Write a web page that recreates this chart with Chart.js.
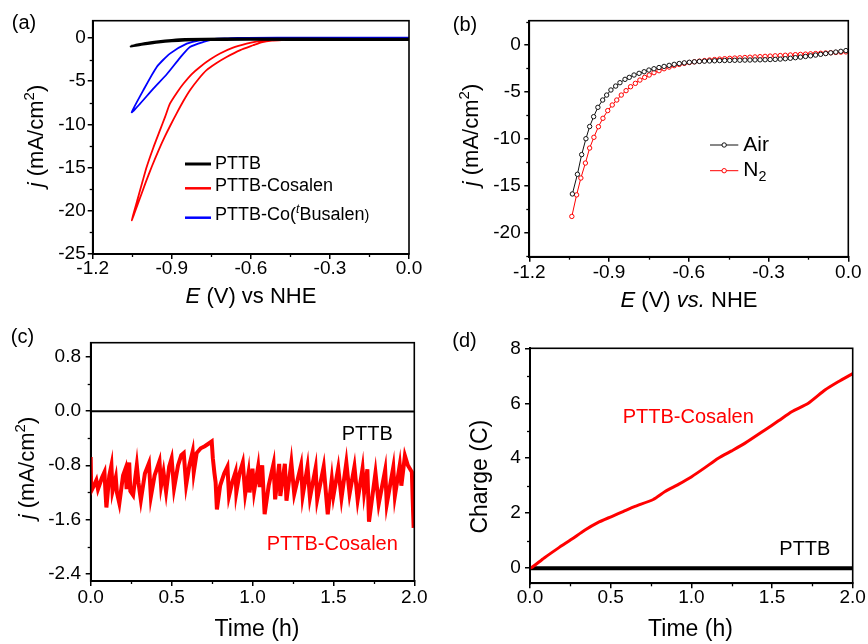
<!DOCTYPE html>
<html><head><meta charset="utf-8">
<script src="https://cdn.jsdelivr.net/npm/chart.js@4.4.0/dist/chart.umd.min.js"></script>
<style>
html,body{margin:0;padding:0;background:#fff;}
#wrap{position:relative;width:868px;height:644px;overflow:hidden;background:#fff;}
canvas{position:absolute;}
</style></head><body>
<div id="wrap">
<canvas id="ca" width="430" height="318" style="left:0;top:0"></canvas>
<canvas id="cb" width="438" height="318" style="left:430px;top:0"></canvas>
<canvas id="cc" width="430" height="324" style="left:0;top:320px"></canvas>
<canvas id="cd" width="438" height="324" style="left:430px;top:320px"></canvas>
</div>
<script>
// ---------------- DATA ----------------
// (a) CV curves, E (V vs NHE) and j (mA/cm2)
const aPTTB_E = [0.0,-0.3,-0.6,-0.8,-0.85,-0.9,-0.95,-1.0,-1.055,-1.0,-0.95,-0.9,-0.85,-0.7,-0.4,0.0];
const aPTTB_j = [-0.2,-0.2,-0.19,-0.2,-0.25,-0.35,-0.5,-0.7,-0.95,-0.6,-0.4,-0.25,-0.15,-0.1,-0.1,-0.12];
const aCosalen_E = [-0.47,-0.52,-0.56,-0.591,-0.64,-0.692,-0.73,-0.767,-0.80,-0.831,-0.856,-0.881,-0.905,-0.926,-0.95,-0.976,-1.0,-1.025,-1.052,-1.03,-1.01,-0.995,-0.97,-0.945,-0.925,-0.907,-0.88,-0.856,-0.825,-0.793,-0.755,-0.717,-0.67,-0.616,-0.58,-0.54,-0.50,-0.47];
const aCosalen_j = [-0.22,-0.3,-0.5,-0.84,-1.4,-2.2,-2.9,-3.7,-4.8,-6.05,-7.3,-8.7,-10.1,-11.4,-13.0,-14.9,-16.8,-18.9,-21.1,-18.7,-16.5,-14.9,-12.7,-10.7,-9.1,-7.6,-6.3,-5.3,-4.2,-3.35,-2.5,-1.8,-1.15,-0.65,-0.42,-0.27,-0.2,-0.18];
const aBu_E = [0.0,-0.3,-0.5,-0.65,-0.742,-0.78,-0.831,-0.869,-0.919,-0.970,-1.020,-1.052,-1.008,-0.957,-0.907,-0.843,-0.793,-0.7,-0.5,-0.2,0.0];
const aBu_j = [0.03,0.02,0.04,0.0,-0.19,-0.46,-1.04,-2.3,-4.2,-5.86,-7.6,-8.6,-6.05,-3.35,-1.81,-0.66,-0.27,-0.05,0.05,0.03,0.04];
// (b) LSV in air and N2
const bAir_E = [-1.038,-1.019,-1.003,-0.987,-0.973,-0.958,-0.942,-0.924,-0.909,-0.893,-0.875,-0.859,-0.840,-0.824,-0.806,-0.787,-0.768,-0.750,-0.731,-0.712,-0.693,-0.674,-0.655,-0.636,-0.617,-0.598,-0.579,-0.560,-0.541,-0.522,-0.503,-0.484,-0.465,-0.446,-0.427,-0.408,-0.389,-0.370,-0.351,-0.332,-0.313,-0.294,-0.275,-0.256,-0.237,-0.218,-0.199,-0.180,-0.161,-0.142,-0.123,-0.104,-0.085,-0.066,-0.047,-0.028,-0.009];
const bAir_j = [-15.9,-13.8,-11.7,-10.0,-8.7,-7.65,-6.65,-5.87,-5.34,-4.8,-4.38,-4.02,-3.66,-3.45,-3.2,-3.02,-2.85,-2.67,-2.53,-2.4,-2.28,-2.17,-2.06,-1.97,-1.9,-1.84,-1.79,-1.75,-1.72,-1.7,-1.68,-1.66,-1.65,-1.64,-1.63,-1.62,-1.61,-1.6,-1.59,-1.58,-1.57,-1.55,-1.53,-1.5,-1.46,-1.41,-1.35,-1.29,-1.22,-1.15,-1.07,-0.99,-0.91,-0.83,-0.75,-0.67,-0.59];
const bN2_E = [-1.040,-1.022,-1.006,-0.989,-0.973,-0.957,-0.940,-0.923,-0.905,-0.888,-0.871,-0.854,-0.836,-0.819,-0.801,-0.784,-0.766,-0.749,-0.731,-0.712,-0.693,-0.674,-0.655,-0.636,-0.617,-0.598,-0.579,-0.560,-0.541,-0.522,-0.503,-0.484,-0.465,-0.446,-0.427,-0.408,-0.389,-0.370,-0.351,-0.332,-0.313,-0.294,-0.275,-0.256,-0.237,-0.218,-0.199,-0.180,-0.161,-0.142,-0.123,-0.104,-0.085,-0.066,-0.047,-0.028,-0.009];
const bN2_j = [-18.3,-16.0,-14.2,-12.6,-11.0,-9.85,-8.72,-7.82,-7.0,-6.4,-5.87,-5.34,-4.87,-4.45,-4.09,-3.74,-3.45,-3.2,-2.95,-2.74,-2.53,-2.35,-2.2,-2.07,-1.96,-1.87,-1.79,-1.72,-1.66,-1.6,-1.55,-1.5,-1.46,-1.42,-1.39,-1.36,-1.33,-1.3,-1.27,-1.24,-1.21,-1.18,-1.15,-1.12,-1.09,-1.06,-1.03,-1.0,-0.97,-0.94,-0.91,-0.88,-0.85,-0.82,-0.79,-0.76,-0.73];
// (c) current vs time
const cCosalen_t = [0.000,0.003,0.020,0.035,0.045,0.070,0.085,0.092,0.097,0.115,0.128,0.135,0.155,0.162,0.177,0.200,0.215,0.222,0.238,0.245,0.262,0.285,0.295,0.310,0.335,0.360,0.372,0.395,0.425,0.435,0.450,0.466,0.485,0.500,0.515,0.540,0.560,0.575,0.590,0.610,0.630,0.637,0.655,0.680,0.705,0.730,0.748,0.755,0.765,0.772,0.780,0.800,0.825,0.845,0.855,0.875,0.895,0.900,0.920,0.940,0.955,0.975,0.982,1.000,1.010,1.035,1.045,1.060,1.075,1.100,1.130,1.140,1.165,1.172,1.200,1.210,1.240,1.258,1.300,1.310,1.340,1.355,1.390,1.400,1.440,1.465,1.490,1.500,1.530,1.550,1.580,1.600,1.630,1.650,1.680,1.690,1.710,1.720,1.760,1.780,1.820,1.830,1.870,1.880,1.910,1.920,1.942,1.960,1.985,1.990,1.996];
const cCosalen_j = [-0.68,-1.18,-1.10,-1.02,-1.15,-0.98,-0.90,-1.22,-1.42,-0.95,-0.80,-1.18,-0.98,-1.20,-1.36,-0.95,-0.85,-1.15,-0.76,-1.18,-1.24,-0.80,-1.05,-1.31,-0.92,-0.77,-1.26,-0.95,-0.74,-1.10,-0.90,-1.19,-0.82,-0.70,-1.14,-0.80,-0.65,-0.62,-1.09,-0.80,-0.60,-0.90,-0.62,-0.55,-0.52,-0.48,-0.45,-0.70,-0.92,-1.05,-1.45,-1.10,-0.92,-0.82,-1.25,-1.05,-0.90,-1.20,-0.92,-0.76,-1.22,-0.92,-1.20,-0.85,-1.18,-0.82,-1.12,-0.80,-1.52,-1.10,-0.78,-1.30,-0.78,-1.25,-0.78,-1.32,-0.76,-1.22,-0.80,-1.25,-0.82,-1.28,-0.84,-1.30,-0.82,-1.52,-1.00,-1.25,-0.84,-1.28,-0.76,-1.22,-0.82,-1.31,-0.85,-1.20,-0.86,-1.63,-0.91,-1.37,-0.87,-1.37,-0.83,-1.25,-0.80,-1.10,-0.66,-0.80,-0.90,-1.30,-1.72];
const cPTTB_t = [0.0,0.5,1.0,1.5,2.0];
const cPTTB_j = [-0.005,-0.008,-0.008,-0.01,-0.01];
// (d) charge vs time
const dCosalen_t = [0.000,0.010,0.090,0.175,0.260,0.341,0.420,0.506,0.580,0.651,0.764,0.837,0.920,1.002,1.080,1.167,1.250,1.333,1.456,1.540,1.622,1.725,1.828,1.910,2.000];
const dCosalen_Q = [0.00,0.02,0.38,0.73,1.06,1.39,1.66,1.88,2.07,2.25,2.50,2.79,3.05,3.33,3.64,4.00,4.27,4.55,5.03,5.36,5.69,6.00,6.48,6.78,7.08];
const dPTTB_t = [0.0,0.5,1.0,1.5,2.0];
const dPTTB_Q = [0,0,0,0,0];
// tick labels
const eTicks = [-1.2,-0.9,-0.6,-0.3,0.0];
const aJTicks = [0,-5,-10,-15,-20,-25];
const bJTicks = [0,-5,-10,-15,-20];
const timeTicks = [0.0,0.5,1.0,1.5,2.0];
const cJTicks = [0.8,0.0,-0.8,-1.6,-2.4];
const dQTicks = [0,2,4,6,8];

// ---------------- DRAWING ----------------
const FONT = "'Liberation Sans', Arial, Helvetica, sans-serif";
Chart.defaults.font.family = FONT;
Chart.defaults.color = '#000';
const pts = (xs, ys) => xs.map((x, i) => ({x: x, y: ys[i]}));

function fontStr(r, size) {
  let s = size;
  if (r.sup || r.sub) s = size * 0.68;
  else if (r.scale) s = size * r.scale;
  return (r.italic ? 'italic ' : '') + s.toFixed(1) + 'px ' + FONT;
}
function drawRich(ctx, runs, cx, cy, size, color, rot, align) {
  ctx.save();
  ctx.translate(cx, cy);
  if (rot) ctx.rotate(rot);
  ctx.textBaseline = 'alphabetic';
  ctx.textAlign = 'left';
  let total = 0;
  const ws = runs.map(r => { ctx.font = fontStr(r, size); const w = ctx.measureText(r.t).width; total += w; return w; });
  let x = align === 'left' ? 0 : -total / 2;
  const base = size * 0.358;
  runs.forEach((r, i) => {
    ctx.font = fontStr(r, size);
    ctx.fillStyle = r.color || color;
    let dy = base;
    if (r.sup) dy -= size * 0.42;
    if (r.sub) dy += size * 0.25;
    ctx.fillText(r.t, x, dy);
    x += ws[i];
  });
  ctx.restore();
}
function minorVals(scale) {
  const v = scale.ticks.map(t => t.value).sort((a, b) => a - b);
  const step = v[1] - v[0];
  const out = [];
  for (let m = v[0] - step / 2; m <= v[v.length - 1] + step / 2 + 1e-9; m += step) {
    if (m >= scale.min - 1e-9 && m <= scale.max + 1e-9) out.push(m);
  }
  return out;
}
const deco = {
  id: 'deco',
  afterDraw(chart, args, o) {
    const ctx = chart.ctx, a = chart.chartArea, sx = chart.scales.x, sy = chart.scales.y;
    ctx.save();
    ctx.strokeStyle = '#000';
    ctx.lineWidth = 1.3;
    minorVals(sx).forEach(m => { const p = Math.round(sx.getPixelForValue(m)) + 0.5; ctx.beginPath(); ctx.moveTo(p, a.bottom); ctx.lineTo(p, a.bottom + 3); ctx.stroke(); });
    minorVals(sy).forEach(m => { const p = Math.round(sy.getPixelForValue(m)) + 0.5; ctx.beginPath(); ctx.moveTo(a.left, p); ctx.lineTo(a.left - 3, p); ctx.stroke(); });
    ctx.lineWidth = 1.6;
    ctx.strokeRect(a.left, a.top, a.right - a.left, a.bottom - a.top);
    ctx.restore();
    // titles and labels
    drawRich(ctx, o.xTitle.runs, o.xTitle.x, o.xTitle.y, o.xTitle.size, '#000', 0);
    drawRich(ctx, o.yTitle.runs, o.yTitle.x, o.yTitle.y, o.yTitle.size, '#000', -Math.PI / 2);
    drawRich(ctx, [{t: o.panel.t}], o.panel.x, o.panel.y, 20, '#000', 0);
    (o.notes || []).forEach(n => drawRich(ctx, n.runs, n.x, n.y, n.size, n.color, 0, 'left'));
    if (o.legend) {
      const L = o.legend;
      L.rows.forEach(r => {
        const ds = chart.data.datasets[r.ds];
        ctx.save();
        ctx.strokeStyle = ds.borderColor;
        ctx.lineWidth = r.lw || ds.borderWidth;
        ctx.beginPath(); ctx.moveTo(L.x1, r.y); ctx.lineTo(L.x2, r.y); ctx.stroke();
        if (L.marker) {
          ctx.fillStyle = '#fff'; ctx.lineWidth = 1;
          ctx.beginPath(); ctx.arc((L.x1 + L.x2) / 2, r.y, 2.2, 0, Math.PI * 2); ctx.fill(); ctx.stroke();
        }
        ctx.restore();
        drawRich(ctx, r.runs, L.tx, r.ty, L.size, '#000', 0, 'left');
      });
    }
  }
};

function panel(id, P) {
  return new Chart(document.getElementById(id), {
    type: 'scatter',
    data: {datasets: P.datasets},
    options: {
      responsive: false, animation: false, events: [],
      layout: {padding: {left: 0, top: P.top, right: P.right, bottom: 0}},
      plugins: {legend: {display: false}, tooltip: {enabled: false}, deco: P.deco},
      scales: {
        x: {
          type: 'linear', position: 'bottom', min: P.xMin, max: P.xMax,
          afterBuildTicks: s => { s.ticks = P.xTicks.map(v => ({value: v})); },
          afterFit: s => { s.height = P.xH; },
          ticks: {callback: v => Number(v).toFixed(P.xDec), font: {size: 19, lineHeight: 1}, padding: P.xPad, color: '#000', maxRotation: 0, autoSkip: false},
          grid: {display: true, drawOnChartArea: false, drawTicks: true, tickLength: 5, color: '#000', tickWidth: 1.5, lineWidth: 1.5},
          border: {display: true, color: '#000', width: 2},
          title: {display: false}
        },
        y: {
          type: 'linear', position: 'left', min: P.yMin, max: P.yMax,
          afterBuildTicks: s => { s.ticks = P.yTicks.map(v => ({value: v})); },
          afterFit: s => { s.width = P.yW; },
          ticks: {callback: v => Number(v).toFixed(P.yDec), font: {size: 19, lineHeight: 1}, padding: P.yPad, color: '#000', autoSkip: false},
          grid: {display: true, drawOnChartArea: false, drawTicks: true, tickLength: 5, color: '#000', tickWidth: 1.5, lineWidth: 1.5},
          border: {display: true, color: '#000', width: 2},
          title: {display: false}
        }
      }
    },
    plugins: [deco]
  });
}

const jTitle = [{t: 'j', italic: true}, {t: ' (mA/cm'}, {t: '2', sup: true}, {t: ')'}];

// (a)
panel('ca', {
  datasets: [
    {label: 'PTTB', data: pts(aPTTB_E, aPTTB_j), showLine: true, borderColor: '#000', borderWidth: 2.5, pointRadius: 0, tension: 0.2},
    {label: 'PTTB-Cosalen', data: pts(aCosalen_E, aCosalen_j), showLine: true, borderColor: '#ff0000', borderWidth: 1.8, pointRadius: 0, tension: 0.2},
    {label: 'PTTB-Co(tBusalen)', data: pts(aBu_E, aBu_j), showLine: true, borderColor: '#0000ff', borderWidth: 1.8, pointRadius: 0, tension: 0.2}
  ],
  xMin: -1.2, xMax: 0, yMin: -25, yMax: 2, xTicks: eTicks, yTicks: aJTicks, xDec: 1, yDec: 0,
  top: 20.7, right: 21, yW: 92.7, xH: 64, xPad: 0, yPad: 2,
  deco: {
    xTitle: {runs: [{t: 'E', italic: true}, {t: ' (V) vs NHE'}], x: 251, y: 295, size: 22},
    yTitle: {runs: jTitle, x: 35, y: 136, size: 22},
    panel: {t: '(a)', x: 24, y: 22},
    legend: {x1: 185, x2: 211, tx: 215, size: 18, rows: [
      {ds: 0, y: 164, ty: 162.5, lw: 3, runs: [{t: 'PTTB'}]},
      {ds: 1, y: 188.3, ty: 185, lw: 2.5, runs: [{t: 'PTTB-Cosalen'}]},
      {ds: 2, y: 217.7, ty: 214, lw: 2.5, runs: [{t: 'PTTB-Co('}, {t: 't', italic: true, sup: true}, {t: 'Busalen'}, {t: ')', scale: 0.8}]}
    ]}
  }
});

// (b)
panel('cb', {
  datasets: [
    {label: 'Air', data: pts(bAir_E, bAir_j), showLine: true, borderColor: '#111', borderWidth: 1, pointRadius: 2.2, pointBackgroundColor: '#fff', pointBorderColor: '#111', pointBorderWidth: 1},
    {label: 'N2', data: pts(bN2_E, bN2_j), showLine: true, borderColor: '#ff0000', borderWidth: 1, pointRadius: 2.2, pointBackgroundColor: '#fff', pointBorderColor: '#ff0000', pointBorderWidth: 1}
  ],
  xMin: -1.2, xMax: 0, yMin: -22.6, yMax: 2.6, xTicks: eTicks, yTicks: bJTicks, xDec: 1, yDec: 0,
  top: 20.7, right: 19.7, yW: 99.3, xH: 61.3, xPad: 2, yPad: 3.6,
  deco: {
    xTitle: {runs: [{t: 'E', italic: true}, {t: ' (V) '}, {t: 'vs.', italic: true}, {t: ' NHE'}], x: 259, y: 299, size: 22},
    yTitle: {runs: jTitle, x: 40, y: 135, size: 22},
    panel: {t: '(b)', x: 35, y: 24},
    legend: {x1: 280, x2: 308.3, tx: 313.3, size: 21, marker: true, rows: [
      {ds: 0, y: 145, ty: 143.3, runs: [{t: 'Air'}]},
      {ds: 1, y: 170.7, ty: 168.3, runs: [{t: 'N'}, {t: '2', sub: true}]}
    ]}
  }
});

// (c)
panel('cc', {
  datasets: [
    {label: 'PTTB-Cosalen', data: pts(cCosalen_t, cCosalen_j), showLine: true, borderColor: '#ff0000', borderWidth: 4, pointRadius: 0, tension: 0},
    {label: 'PTTB', data: pts(cPTTB_t, cPTTB_j), showLine: true, borderColor: '#000', borderWidth: 2, pointRadius: 0}
  ],
  xMin: 0, xMax: 2, yMin: -2.5, yMax: 1.0, xTicks: timeTicks, yTicks: cJTicks, xDec: 1, yDec: 1,
  top: 22.7, right: 15.7, yW: 90.7, xH: 63, xPad: 2.5, yPad: 4.7,
  deco: {
    xTitle: {runs: [{t: 'Time (h)'}], x: 257, y: 308, size: 23},
    yTitle: {runs: jTitle, x: 26, y: 148, size: 22},
    panel: {t: '(c)', x: 22.5, y: 16},
    notes: [
      {runs: [{t: 'PTTB'}], x: 341.7, y: 112.5, size: 20, color: '#000'},
      {runs: [{t: 'PTTB-Cosalen'}], x: 266.7, y: 223.3, size: 20, color: '#ff0000'}
    ]
  }
});

// (d)
panel('cd', {
  datasets: [
    {label: 'PTTB-Cosalen', data: pts(dCosalen_t, dCosalen_Q), showLine: true, borderColor: '#ff0000', borderWidth: 3, pointRadius: 0, tension: 0.2},
    {label: 'PTTB', data: pts(dPTTB_t, dPTTB_Q), showLine: true, borderColor: '#000', borderWidth: 4, pointRadius: 0}
  ],
  xMin: 0, xMax: 2, yMin: -0.55, yMax: 8, xTicks: timeTicks, yTicks: dQTicks, xDec: 1, yDec: 0,
  top: 28.3, right: 15.3, yW: 100, xH: 60.7, xPad: 0, yPad: 4.3,
  deco: {
    xTitle: {runs: [{t: 'Time (h)'}], x: 260.5, y: 308, size: 23},
    yTitle: {runs: [{t: 'Charge (C)'}], x: 49, y: 156.7, size: 23},
    panel: {t: '(d)', x: 34.5, y: 20},
    notes: [
      {runs: [{t: 'PTTB-Cosalen'}], x: 192.7, y: 95.7, size: 20, color: '#ff0000'},
      {runs: [{t: 'PTTB'}], x: 349.3, y: 228.3, size: 20, color: '#000'}
    ]
  }
});
</script>
</body></html>
